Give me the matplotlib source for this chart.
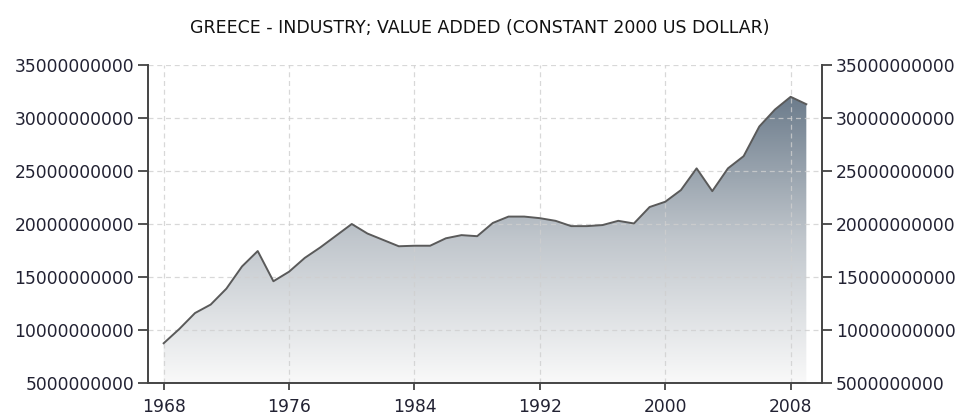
import numpy as np
import matplotlib.pyplot as plt
from matplotlib.colors import LinearSegmentedColormap
from matplotlib.ticker import FuncFormatter

years = list(range(1968, 2010))
values_bn = [8.75, 10.1, 11.6, 12.4, 13.9, 16.0, 17.45, 14.6, 15.5, 16.8,
             17.8, 18.9, 20.0, 19.1, 18.5, 17.9, 17.95, 17.95, 18.65, 18.95,
             18.85, 20.1, 20.7, 20.7, 20.55, 20.3, 19.8, 19.8, 19.9, 20.3,
             20.05, 21.6, 22.1, 23.2, 25.25, 23.1, 25.25, 26.4, 29.2, 30.8,
             32.0, 31.3]
values = [v * 1e9 for v in values_bn]
xticks = [1968, 1976, 1984, 1992, 2000, 2008]
yticks = [5e9, 10e9, 15e9, 20e9, 25e9, 30e9, 35e9]
title = "GREECE - INDUSTRY; VALUE ADDED (CONSTANT 2000 US DOLLAR)"

text_color = "#222233"
spine_color = "#444444"

fig = plt.figure(figsize=(9.6, 4.17), dpi=100)
ax = fig.add_axes([148 / 960, 34 / 417, 674 / 960, 318 / 417])

xmin, xmax = 1967, 2010
ymin, ymax = 5e9, 35e9

# gradient fill under the line
cmap = LinearSegmentedColormap.from_list("g", ["#f9f9f9", "#c0c6cc", "#6a7a8a"])
grad = np.linspace(0, 1, 256).reshape(-1, 1)
poly = ax.fill_between(years, values, ymin, color="none", lw=0)
im = ax.imshow(grad, extent=[xmin, xmax, ymin, 32.3e9], origin="lower",
               aspect="auto", cmap=cmap, zorder=1)
im.set_clip_path(poly.get_paths()[0], transform=ax.transData)
ax.plot(years, values, color="#5a5a5a", lw=1.4, zorder=3)

ax.set_xlim(xmin, xmax)
ax.set_ylim(ymin, ymax)
ax.set_xticks(xticks)
ax.set_yticks(yticks)
fmt = FuncFormatter(lambda v, p: "%d" % int(round(v)))
ax.yaxis.set_major_formatter(fmt)
# grid drawn over the fill, as in the original
ax.grid(True, color="#cfcfcf", ls=(0, (4, 3)), lw=0.9, alpha=0.8)
ax.set_axisbelow(False)

for s in ["top", "right"]:
    ax.spines[s].set_visible(False)
for s in ["left", "bottom"]:
    ax.spines[s].set_color(spine_color)
    ax.spines[s].set_linewidth(1.4)
    ax.spines[s].set_zorder(4)

ax.tick_params(axis="y", length=7, width=1.3, color=spine_color, pad=3,
               labelsize=12.3, labelcolor=text_color)
ax.tick_params(axis="x", length=5, width=1.3, color=spine_color, pad=6,
               labelsize=12.3, labelcolor=text_color)

ax2 = ax.twinx()
ax2.set_ylim(ymin, ymax)
ax2.set_yticks(yticks)
ax2.yaxis.set_major_formatter(fmt)
for s in ["top", "left", "bottom"]:
    ax2.spines[s].set_visible(False)
ax2.spines["right"].set_color(spine_color)
ax2.spines["right"].set_linewidth(1.4)
ax2.tick_params(axis="y", length=7, width=1.3, color=spine_color, pad=3,
                labelsize=12.3, labelcolor=text_color)

fig.text(0.5, 1 - 28 / 417, title, ha="center", va="center",
         fontsize=12.5, color="#111111",
         family=["Liberation Sans Narrow", "DejaVu Sans"])

fig.savefig("out.png", dpi=100)
